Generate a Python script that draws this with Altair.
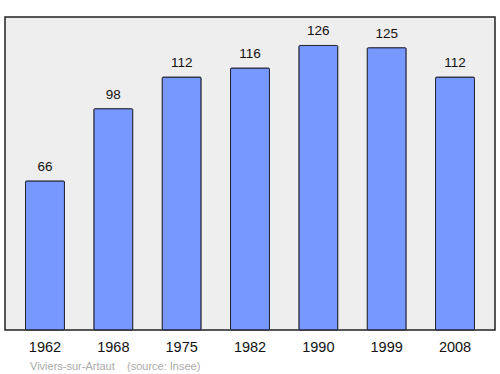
import altair as alt
import pandas as pd

years = ["1962", "1968", "1975", "1982", "1990", "1999", "2008"]
population = [66, 98, 112, 116, 126, 125, 112]
source_note = "Viviers-sur-Artaut\u00a0\u00a0\u00a0\u00a0(source: Insee)"

df = pd.DataFrame({"year": years, "pop": population})

x = alt.X("year:N", sort=years, title=None,
          scale=alt.Scale(paddingInner=0.43, paddingOuter=0.3),
          axis=alt.Axis(labelAngle=0, labelFontSize=14.5, labelColor="#111111",
                        labelFont="Liberation Sans", ticks=False, domain=False,
                        labelPadding=10))
y = alt.Y("pop:Q", title=None, scale=alt.Scale(domain=[0, 138.6], nice=False, zero=True),
          axis=None)

bars = alt.Chart(df).mark_bar(color="#7799ff", stroke="#222233", strokeWidth=1,
                              cornerRadius=1).encode(x=x, y=y)
labels = alt.Chart(df).mark_text(baseline="alphabetic", dy=-10, fontSize=13.5,
                                 font="Liberation Sans", color="#111111").encode(
    x=x, y=y, text="pop:Q")

chart = (bars + labels).properties(
    width=490, height=313,
    autosize=alt.AutoSizeParams(type="none"),
    padding={"left": 5, "top": 17, "right": 5, "bottom": 44},
    background="white",
    title=alt.TitleParams(source_note, orient="bottom", anchor="start", fontSize=11,
                          font="Liberation Sans", fontWeight="normal", color="#aaaaaa",
                          offset=7, dx=25),
).configure_view(fill="#eeeeee", stroke="#222222", strokeWidth=1.5)

chart.save("out.html", embed_options={"renderer": "svg", "actions": False})
